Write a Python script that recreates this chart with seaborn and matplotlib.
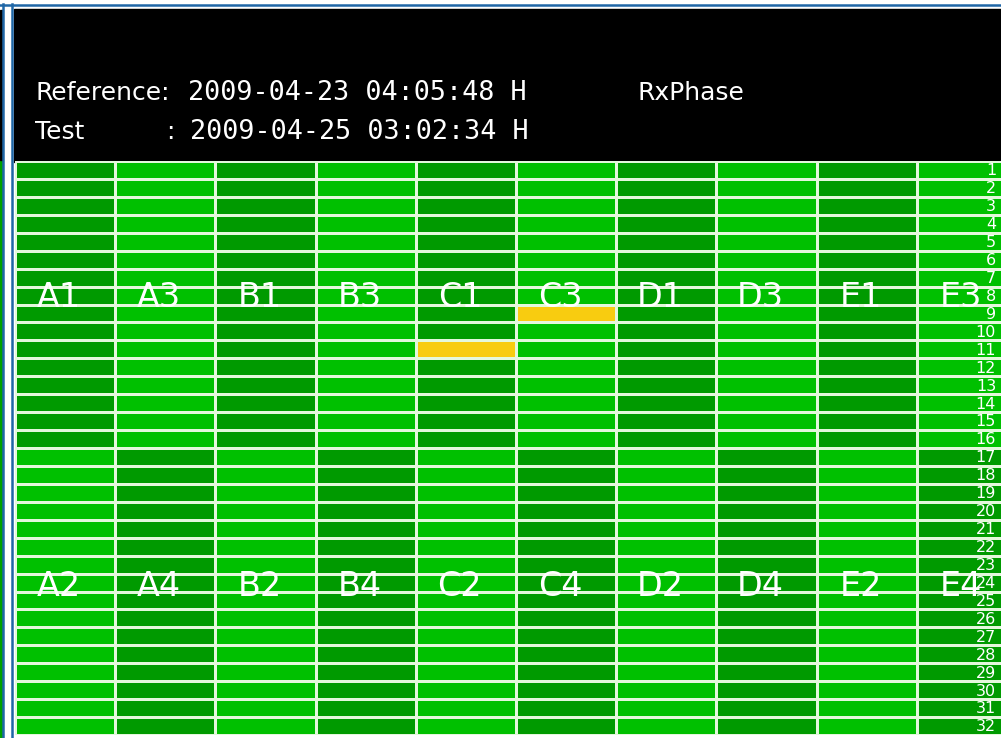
import numpy as np
import matplotlib
matplotlib.use("Agg")
import matplotlib.pyplot as plt
import seaborn as sns
from matplotlib.colors import ListedColormap
from matplotlib.patches import Rectangle
from matplotlib.lines import Line2D

# header texts
ref_label = "Reference:"
ref_time = "2009-04-23 04:05:48 H"
test_label = "Test"
test_time = "2009-04-25 03:02:34 H"
plot_name = "RxPhase"

# cell labels, top half and bottom half
top_names = ["A1", "A3", "B1", "B3", "C1", "C3", "D1", "D3", "E1", "E3"]
bottom_names = ["A2", "A4", "B2", "B4", "C2", "C4", "D2", "D4", "E2", "E4"]
row_numbers = [str(i) for i in range(1, 33)]

# cell state per row: D = dark green, L = light green, Y = yellow (out of range)
rows = [
    "DLDLDLDLDL",  # 1
    "DLDLDLDLDL",  # 2
    "DLDLDLDLDL",  # 3
    "DLDLDLDLDL",  # 4
    "DLDLDLDLDL",  # 5
    "DLDLDLDLDL",  # 6
    "DLDLDLDLDL",  # 7
    "DLDLDLDLDL",  # 8
    "DLDLDYDLDL",  # 9
    "DLDLDLDLDL",  # 10
    "DLDLYLDLDL",  # 11
    "DLDLDLDLDL",  # 12
    "DLDLDLDLDL",  # 13
    "DLDLDLDLDL",  # 14
    "DLDLDLDLDL",  # 15
    "DLDLDLDLDL",  # 16
    "LDLDLDLDLD",  # 17
    "LDLDLDLDLD",  # 18
    "LDLDLDLDLD",  # 19
    "LDLDLDLDLD",  # 20
    "LDLDLDLDLD",  # 21
    "LDLDLDLDLD",  # 22
    "LDLDLDLDLD",  # 23
    "LDLDLDLDLD",  # 24
    "LDLDLDLDLD",  # 25
    "LDLDLDLDLD",  # 26
    "LDLDLDLDLD",  # 27
    "LDLDLDLDLD",  # 28
    "LDLDLDLDLD",  # 29
    "LDLDLDLDLD",  # 30
    "LDLDLDLDLD",  # 31
    "LDLDLDLDLD",  # 32
]

code = {"D": 0, "L": 1, "Y": 2}
grid = np.array([[code[c] for c in r] for r in rows])

W, H = 1001, 738
fig = plt.figure(figsize=(W / 100, H / 100), dpi=100)
fig.patch.set_facecolor("white")

# window frame bits
fig.patches.append(Rectangle((0, 0), 2 / W, 578 / H, transform=fig.transFigure,
                             color="#00a000", zorder=-1))
fig.patches.append(Rectangle((0, 578 / H), 2 / W, 150 / H, transform=fig.transFigure,
                             color="black", zorder=-1))
fig.patches.append(Rectangle((14 / W, 576 / H), 990 / W, 153 / H, transform=fig.transFigure,
                             color="black", zorder=-1))
for x in [2.5, 11.5]:
    fig.lines.append(Line2D([x / W, x / W], [0, 1 - 4 / H], transform=fig.transFigure,
                            color="#1f66a6", lw=1.8))
fig.lines.append(Line2D([0, 1], [1 - 4.5 / H, 1 - 4.5 / H], transform=fig.transFigure,
                        color="#1f66a6", lw=1.8))

# header
fig.text(35 / W, 1 - 93 / H, ref_label, ha="left", va="center", color="white",
         fontsize=18, family="DejaVu Sans")
fig.text(188 / W, 1 - 93 / H, ref_time, ha="left", va="center", color="white",
         fontsize=19.3, family="DejaVu Sans Mono")
fig.text(35 / W, 1 - 132 / H, test_label, ha="left", va="center", color="white",
         fontsize=18, family="DejaVu Sans")
fig.text(166 / W, 1 - 132 / H, ":", ha="left", va="center", color="white",
         fontsize=18, family="DejaVu Sans")
fig.text(190 / W, 1 - 132 / H, test_time, ha="left", va="center", color="white",
         fontsize=19.3, family="DejaVu Sans Mono")
fig.text(637 / W, 1 - 93 / H, plot_name, ha="left", va="center", color="white",
         fontsize=18, family="DejaVu Sans")

# grid of cells
ax = fig.add_axes([15 / W, 3 / H, 1002 / W, 574 / H])
ax.set_zorder(1)
cmap = ListedColormap(["#009a00", "#00c000", "#f8cc10"])
sns.heatmap(grid, ax=ax, cmap=cmap, vmin=-0.5, vmax=2.5, cbar=False,
            linewidths=1.0, linecolor="#e4f8dc",
            xticklabels=False, yticklabels=False)
ax.set_xlabel("")
ax.set_ylabel("")

for i, name in enumerate(top_names):
    ax.text(i + 0.44, 7.6, name, color="white", fontsize=24,
            ha="center", va="center")
for i, name in enumerate(bottom_names):
    ax.text(i + 0.44, 23.7, name, color="white", fontsize=24,
            ha="center", va="center")

x_num = ax.transData.inverted().transform(fig.transFigure.transform((996 / W, 0)))[0]
for j, num in enumerate(row_numbers):
    ax.text(x_num, j + 0.55, num, color="white", fontsize=11.5,
            ha="right", va="center")

fig.savefig("out.png", dpi=100)
